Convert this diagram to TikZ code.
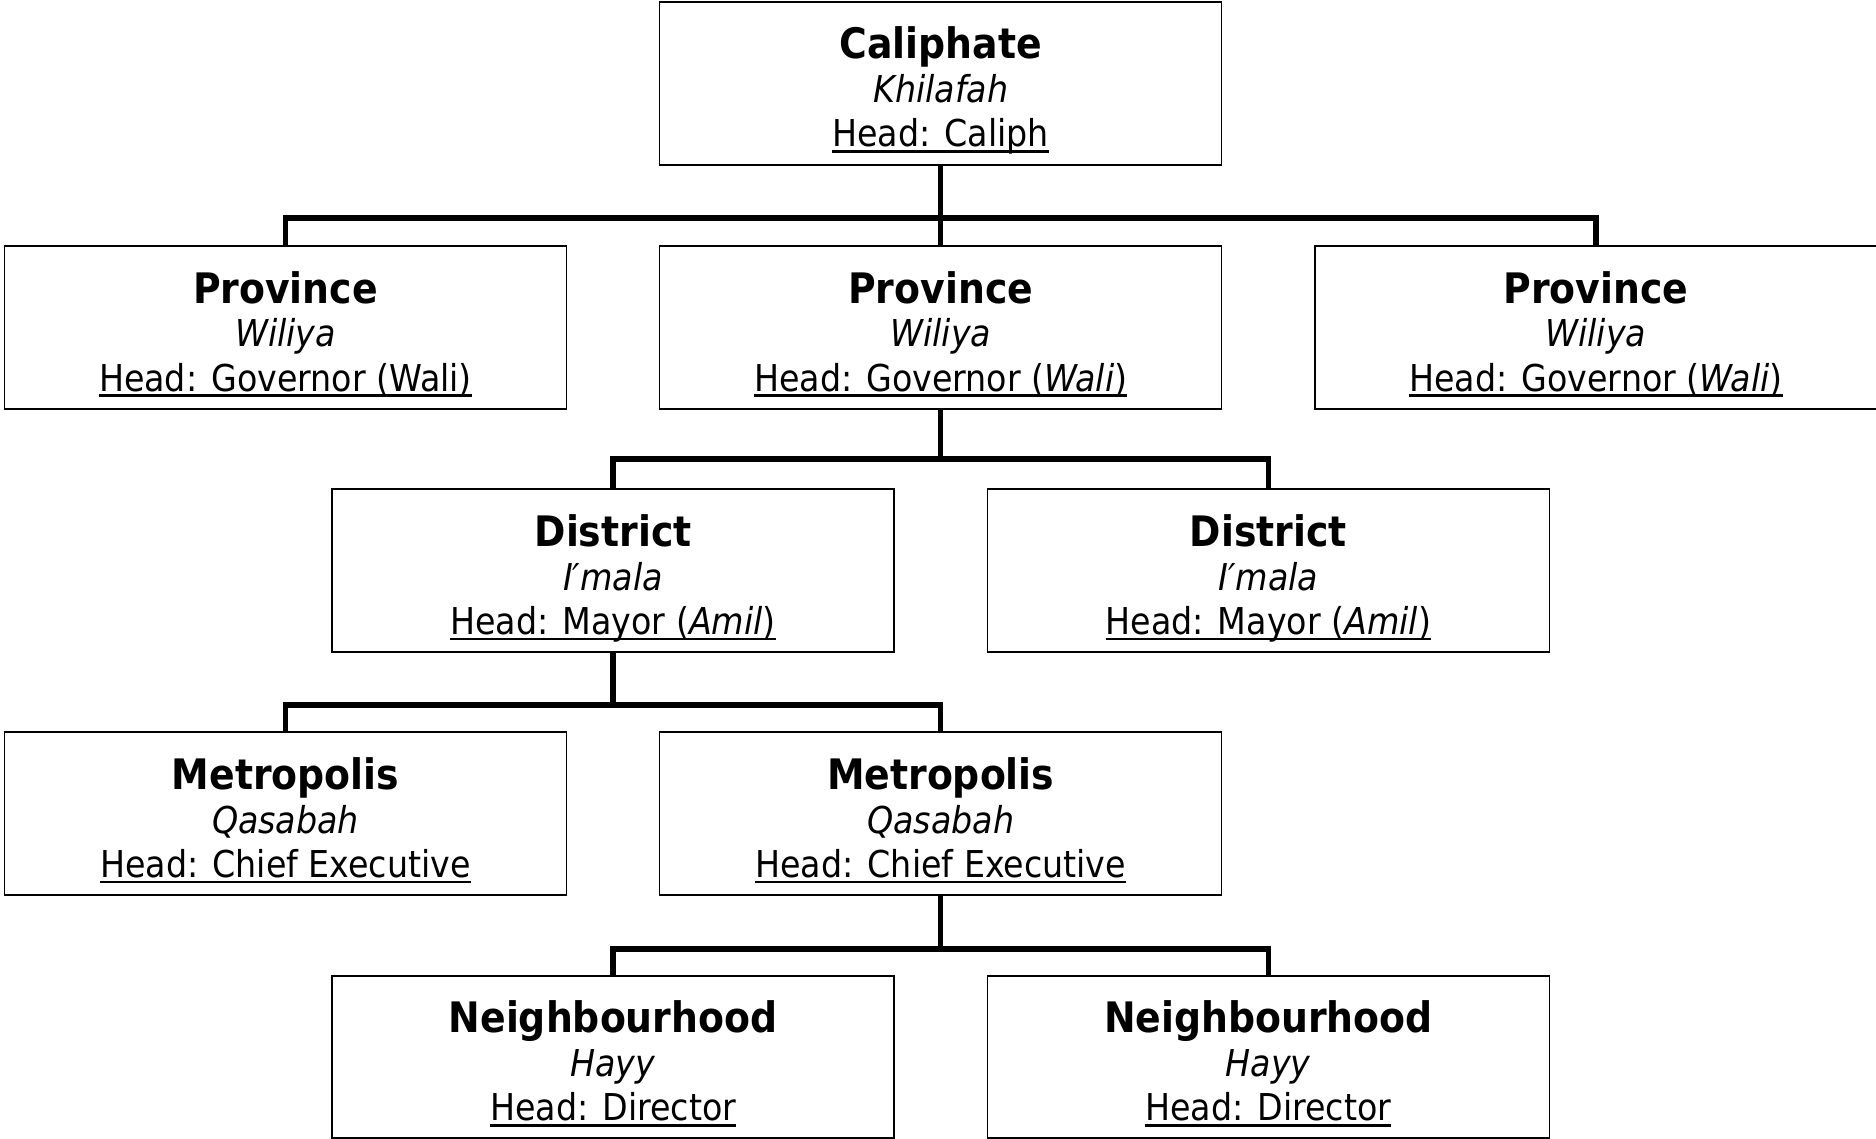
\documentclass[tikz,border=0pt]{standalone}
\usepackage{fontspec}
\setmainfont{DejaVu Sans Condensed}[
  BoldFont={DejaVu Sans Condensed Bold},
  ItalicFont={DejaVu Sans Condensed Oblique}]
\newcommand{\headul}[1]{\setbox0\hbox{#1}\rlap{\vrule height -3.5pt depth 6pt width \wd0}\box0}

\begin{document}
\begin{tikzpicture}[x=1pt,y=-1pt,
    unit/.style={draw, line width=1.5pt, rectangle, inner sep=0pt,
      minimum width=562pt, minimum height=163pt, align=center,
      text height=127pt, text depth=0pt, font=\fontsize{37}{44}\selectfont},
    link/.style={line width=5.5pt}]
            \useasboundingbox (0,0) rectangle (1876,1139);

            % place the units, row by row
            \node[unit] (cal) at (940.7,83.5) {{\fontsize{42}{44}\selectfont\bfseries Caliphate}\\ \textit{Khilafah}\\ \headul{Head: Caliph}};

            \node[unit] (prov1) at (285.5,327.5) {{\fontsize{42}{44}\selectfont\bfseries Province}\\ \textit{Wiliya}\\ \headul{Head: Governor (Wali)}};
            \node[unit] (prov2) at (940.7,327.5) {{\fontsize{42}{44}\selectfont\bfseries Province}\\ \textit{Wiliya}\\ \headul{Head: Governor (\textit{Wali})}};
            \node[unit] (prov3) at (1595.9,327.5) {{\fontsize{42}{44}\selectfont\bfseries Province}\\ \textit{Wiliya}\\ \headul{Head: Governor (\textit{Wali})}};

            \node[unit] (dist1) at (613.1,570.5) {{\fontsize{42}{44}\selectfont\bfseries District}\\ \textit{I′mala}\\ \headul{Head: Mayor (\textit{Amil})}};
            \node[unit] (dist2) at (1268.3,570.5) {{\fontsize{42}{44}\selectfont\bfseries District}\\ \textit{I′mala}\\ \headul{Head: Mayor (\textit{Amil})}};

            \node[unit] (metro1) at (285.5,813.5) {{\fontsize{42}{44}\selectfont\bfseries Metropolis}\\ \textit{Qasabah}\\ \headul{Head: Chief Executive}};
            \node[unit] (metro2) at (940.7,813.5) {{\fontsize{42}{44}\selectfont\bfseries Metropolis}\\ \textit{Qasabah}\\ \headul{Head: Chief Executive}};

            \node[unit, minimum height=162pt] (hood1) at (613.1,1057) {{\fontsize{42}{44}\selectfont\bfseries Neighbourhood}\\ \textit{Hayy}\\ \headul{Head: Director}};
            \node[unit, minimum height=162pt] (hood2) at (1268.3,1057) {{\fontsize{42}{44}\selectfont\bfseries Neighbourhood}\\ \textit{Hayy}\\ \headul{Head: Director}};

            % junction points of the connectors
            \coordinate (j1) at (940.7,218);
            \coordinate (j2) at (940.7,459);
            \coordinate (j3) at (613.1,705);
            \coordinate (j4) at (940.7,949);

            % draw connectors
            \draw[link] (cal) -- (prov2);
            \draw[link] (prov1.north) |- (j1) -| (prov3.north);
            \draw[link] (prov2.south) -- (j2);
            \draw[link] (dist1.north) |- (j2) -| (dist2.north);
            \draw[link] (dist1.south) -- (j3);
            \draw[link] (metro1.north) |- (j3) -| (metro2.north);
            \draw[link] (metro2.south) -- (j4);
            \draw[link] (hood1.north) |- (j4) -| (hood2.north);
        \end{tikzpicture}
\end{document}
